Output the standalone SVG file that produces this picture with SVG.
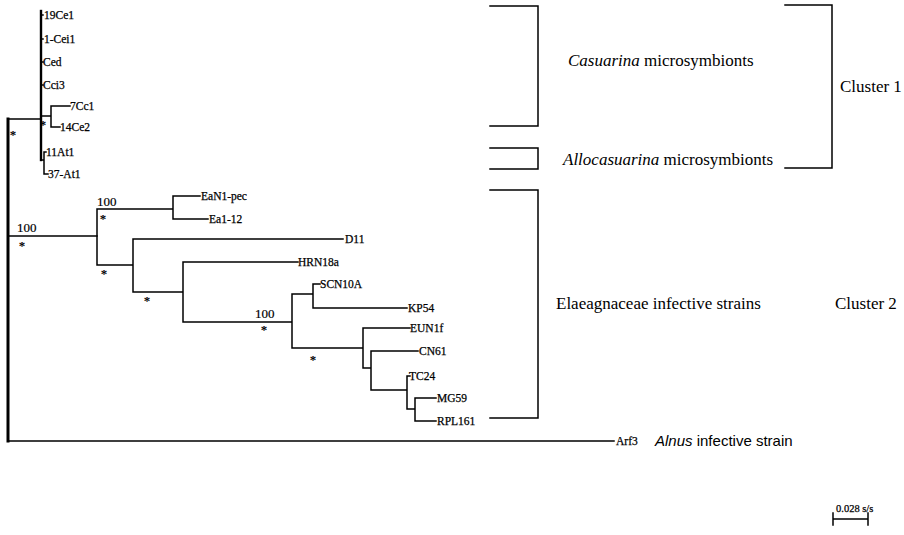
<svg xmlns="http://www.w3.org/2000/svg" width="904" height="535" viewBox="0 0 904 535">
<style>
.ln{fill:none;stroke:#000;stroke-width:1.5;stroke-linecap:square}
.thick{stroke-width:3}
.mid{stroke-width:2.4}
.lab{font-family:"Liberation Serif","Times New Roman",serif;font-size:11.5px;fill:#000;stroke:#000;stroke-width:0.25}
.bs{font-family:"Liberation Serif","Times New Roman",serif;font-size:13px;fill:#000;stroke:#000;stroke-width:0.2}
.st{font-family:"Liberation Serif","Times New Roman",serif;font-size:13px;font-weight:bold;fill:#000;text-anchor:middle}
.big{font-family:"Liberation Serif","Times New Roman",serif;font-size:17px;fill:#000}
.sans{font-family:"Liberation Sans",Arial,sans-serif;font-size:15px;fill:#000}
</style>
<rect width="904" height="535" fill="#fff"/>
<g id="connectors">
<path class="ln thick" d="M8,119 V441"/>
<path class="ln" d="M8,119 H41 M8,236 H97 M8,441 H614"/>
<path class="ln mid" d="M41,11 V160"/>
<path class="ln" d="M41,15 H43 M41,39 H43 M41,62 H43 M41,85 H43 M41,116 H51 M51,106 V127 M51,106 H70 M51,127 H60 M41,160 H44 M44,152 V174 M44,152 H46 M44,174 H48"/>
<path class="ln" d="M97,209 V265 M97,209 H173 M173,196 V219 M173,196 H200 M173,219 H208 M97,265 H133 M133,239 V292 M133,239 H343 M133,292 H183 M183,262 V322 M183,262 H298 M183,322 H292 M292,294 V348 M292,294 H313 M313,284 V308 M313,284 H320 M313,308 H407 M292,348 H363 M363,328 V368 M363,328 H410 M363,368 H371 M371,351 V390 M371,351 H418 M371,390 H407 M407,376 V409 M407,376 H410 M407,409 H415 M415,398 V421 M415,398 H436 M415,421 H436"/>
</g>
<g id="bootstrap">
<text class="bs" x="17" y="232">100</text>
<text class="bs" x="97" y="206">100</text>
<text class="bs" x="255" y="318">100</text>
<text class="st" x="13" y="139">*</text>
<text class="st" x="43" y="129">*</text>
<text class="st" x="22" y="250">*</text>
<text class="st" x="103" y="223">*</text>
<text class="st" x="104" y="278">*</text>
<text class="st" x="147" y="305">*</text>
<text class="st" x="264" y="334">*</text>
<text class="st" x="313" y="364">*</text>
</g>
<g id="n-19Ce1"><text class="lab" x="44" y="19">19Ce1</text></g>
<g id="n-1Cei1"><text class="lab" x="44" y="43">1-Cei1</text></g>
<g id="n-Ced"><text class="lab" x="43" y="66">Ced</text></g>
<g id="n-Cci3"><text class="lab" x="43" y="89">Cci3</text></g>
<g id="n-7Cc1"><text class="lab" x="70" y="110">7Cc1</text></g>
<g id="n-14Ce2"><text class="lab" x="60" y="131">14Ce2</text></g>
<g id="n-11At1"><text class="lab" x="46" y="156">11At1</text></g>
<g id="n-37At1"><text class="lab" x="48" y="178">37-At1</text></g>
<g id="n-EaN1pec"><text class="lab" x="201" y="200">EaN1-pec</text></g>
<g id="n-Ea112"><text class="lab" x="209" y="223">Ea1-12</text></g>
<g id="n-D11"><text class="lab" x="345" y="243">D11</text></g>
<g id="n-HRN18a"><text class="lab" x="298" y="266">HRN18a</text></g>
<g id="n-SCN10A"><text class="lab" x="320" y="288">SCN10A</text></g>
<g id="n-KP54"><text class="lab" x="408" y="312">KP54</text></g>
<g id="n-EUN1f"><text class="lab" x="410" y="332">EUN1f</text></g>
<g id="n-CN61"><text class="lab" x="419" y="355">CN61</text></g>
<g id="n-TC24"><text class="lab" x="409" y="380">TC24</text></g>
<g id="n-MG59"><text class="lab" x="437" y="402">MG59</text></g>
<g id="n-RPL161"><text class="lab" x="437" y="425">RPL161</text></g>
<g id="n-Arf3"><text class="lab" x="616" y="445">Arf3</text></g>
<g id="brackets">
<path class="ln" d="M490,6 H538 V126 H490 M490,148 H538 V169 H490 M490,190 H538 V418 H490 M785,5 H832 V168 H785"/>
</g>
<g id="g-casuarina"><text class="big" x="568" y="66"><tspan font-style="italic">Casuarina</tspan> microsymbionts</text></g>
<g id="g-allocasuarina"><text class="big" x="563" y="165"><tspan font-style="italic">Allocasuarina</tspan> microsymbionts</text></g>
<g id="g-cluster1"><text class="big" x="840" y="92">Cluster 1</text></g>
<g id="g-elaeagnaceae"><text class="big" x="556" y="309">Elaeagnaceae infective strains</text></g>
<g id="g-cluster2"><text class="big" x="835" y="309">Cluster 2</text></g>
<g id="g-alnus"><text class="sans" x="655" y="446"><tspan font-style="italic">Alnus</tspan> infective strain</text></g>
<g id="scale">
<path class="ln" d="M833,519 H868 M833,513 V525 M868,513 V525"/>
<text class="lab" x="836" y="512" style="font-size:10.5px">0.028 s/s</text>
</g>
</svg>
